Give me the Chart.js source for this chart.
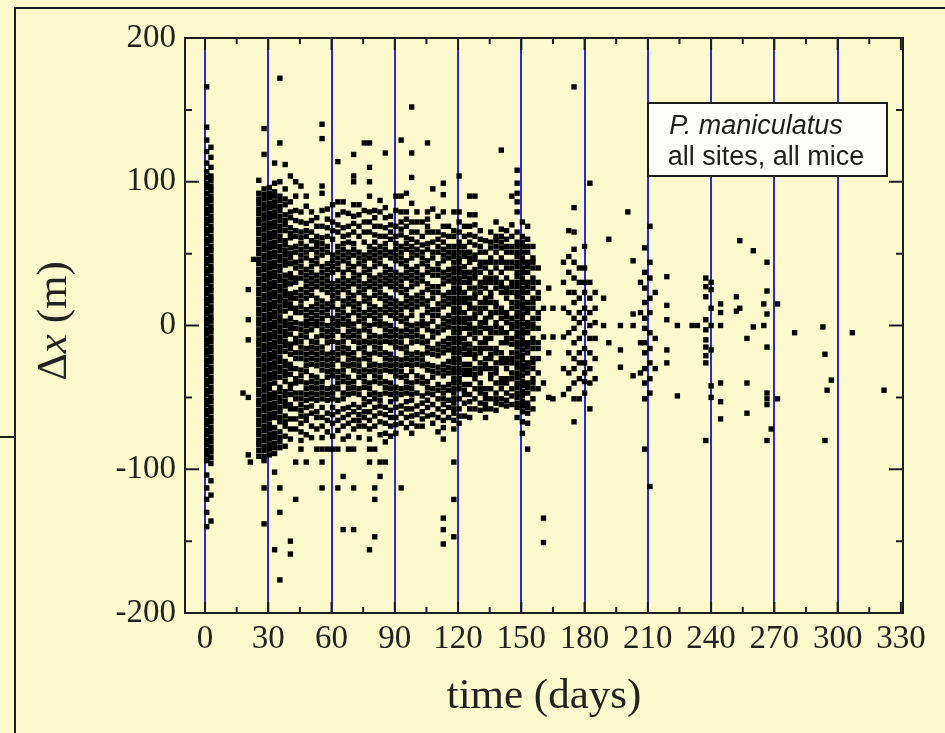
<!DOCTYPE html>
<html>
<head>
<meta charset="utf-8">
<title>P. maniculatus displacement</title>
<script src="https://cdn.jsdelivr.net/npm/chart.js@4.4.1/dist/chart.umd.min.js"></script>
<style>
  html, body { margin: 0; padding: 0; background: #fcfacd; }
  canvas { display: block; }
</style>
</head>
<body>
<canvas id="chart" width="945" height="733"></canvas>
<script>
// capture day (x) for each column of points, and the displacements seen in that column
const colDays = [
  0.8, 2.8, 18, 20.5, 21.5, 23,
  25.5, 28, 30.5, 33, 35.5, 38, 40.5, 43, 45.5,
  48, 50.5, 53, 55.5, 58, 60.5, 63, 65.5, 68, 70.5, 73, 75.5, 78, 80.5, 83, 85.5, 88, 90.5,
  93, 95.5, 98, 100.5, 103, 105.5, 108, 110.5, 113, 115.5, 118, 120.5, 123, 125.5, 128,
  130.5, 133, 135.5, 138, 140.5, 143, 145.5, 148, 150.5, 153, 155.5, 158, 160.5, 163, 165,
  170, 172.5, 175, 177.5, 180, 182.5, 185,
  189, 191.5, 197, 200.5, 203,
  206.5, 208.5, 211, 213.5,
  219, 224, 231, 233.5,
  237.5, 240, 244.5,
  252, 253.6, 257, 260, 265, 266.5, 268.5, 271.5,
  279.6, 293, 294, 295, 297, 307, 322
]

const colDeltas = [
  [166,138,129,121,113,107,103,99,96,92,88,85,81,78,74,71,67,64,60,57,53,50,46,43,39,36,32,29,25,22,18,15,11,8,4,1,-3,-6,-10,-13,-17,-20,-24,-27,-31,-34,-38,-41,-45,-48,-52,-55,-59,-62,-66,-69,-73,-76,-80,-83,-87,-90,-94,-104,-113,-121,-130,-140],
  [124,117,110,104,101,97,94,90,87,83,80,76,73,69,66,62,59,55,52,48,45,41,38,34,31,27,24,20,17,13,10,6,3,-1,-4,-8,-11,-15,-18,-22,-25,-29,-32,-36,-39,-43,-46,-50,-53,-57,-60,-64,-67,-71,-74,-78,-81,-85,-88,-92,-96,-108,-118,-136],
  [-47],
  [25,4,-10,-50,-90],
  [-95],
  [46],
  // 30 day cluster
  [101,92,88,85,81,78,74,71,67,64,60,57,53,50,46,43,39,36,32,29,25,22,18,15,11,8,4,1,-3,-6,-10,-13,-17,-20,-24,-27,-31,-34,-38,-41,-45,-48,-52,-55,-59,-62,-66,-69,-73,-76,-80,-83,-87,-91],
  [137,119,95,91,88,84,81,77,74,70,67,63,60,56,53,49,46,42,39,35,32,28,25,21,18,14,11,7,4,0,-3,-7,-10,-14,-17,-21,-24,-28,-31,-35,-38,-42,-45,-49,-52,-56,-59,-63,-66,-70,-73,-77,-80,-84,-87,-91,-94,-113,-138],
  [96,92,89,85,82,78,75,71,68,64,61,57,54,50,47,43,40,36,33,29,26,22,19,15,12,8,5,1,-2,-6,-9,-13,-16,-20,-23,-27,-30,-34,-37,-41,-44,-48,-51,-55,-58,-62,-65,-69,-72,-76,-79,-83,-86,-90],
  [113,99,93,90,86,83,79,76,72,69,65,62,58,55,51,48,44,41,37,34,30,27,23,20,16,13,9,6,2,-1,-5,-8,-12,-15,-19,-22,-26,-29,-33,-36,-40,-47,-50,-54,-57,-61,-64,-71,-75,-78,-82,-85,-89,-102,-156],
  [172,127,100,90,87,83,80,76,73,69,66,62,59,55,52,48,45,41,38,34,31,27,24,20,17,13,10,6,3,-1,-4,-8,-11,-15,-18,-22,-25,-29,-32,-36,-43,-46,-50,-53,-57,-60,-64,-67,-74,-78,-81,-85,-113,-130,-177],
  [112,95,88,84,77,73,70,66,59,56,52,49,45,42,35,31,28,24,21,17,14,10,3,0,-4,-7,-11,-14,-18,-25,-28,-32,-35,-39,-46,-49,-53,-56,-63,-67,-70,-77,-84],
  [104,86,79,75,68,64,61,54,50,47,43,36,33,29,22,19,15,12,5,1,-2,-6,-13,-16,-20,-27,-30,-34,-41,-44,-48,-55,-58,-65,-72,-79,-150,-159],
  [100,90,80,73,66,62,55,51,44,40,33,30,23,19,12,9,2,-2,-9,-12,-19,-23,-30,-37,-40,-47,-51,-58,-65,-72,-95,-121],
  [97,79,72,65,61,57,53,49,45,41,37,33,25,21,17,13,9,1,-3,-7,-11,-15,-19,-23,-31,-35,-39,-47,-51,-55,-59,-63,-68,-74,-80,-86],
  // 60 and 90 day clusters
  [90,83,71,66,62,55,51,47,39,35,31,27,23,19,11,7,3,0,-4,-8,-16,-20,-24,-28,-32,-40,-44,-48,-52,-57,-63,-66,-76,-95],
  [79,73,65,59,53,45,41,37,33,29,25,21,13,9,5,1,-3,-11,-15,-19,-23,-27,-35,-39,-43,-47,-51,-56,-61,-70,-78],
  [75,69,62,58,55,51,47,43,35,31,27,19,15,11,7,3,0,-8,-12,-16,-20,-24,-28,-36,-40,-44,-48,-52,-60,-64,-72,-86],
  [140,130,97,92,80,69,61,57,53,49,41,37,33,29,25,17,13,9,5,1,-3,-7,-15,-19,-23,-27,-31,-39,-43,-47,-51,-57,-64,-70,-78,-86,-95,-113],
  [81,74,68,62,55,51,43,39,35,31,27,23,15,11,7,0,-4,-8,-12,-20,-24,-28,-32,-36,-44,-48,-52,-61,-66,-74,-86],
  [84,72,66,60,49,45,41,37,29,25,21,17,13,5,1,-3,-7,-11,-19,-23,-27,-31,-35,-43,-47,-51,-57,-62,-68,-77,-86],
  [114,86,77,70,65,55,51,47,43,39,31,27,23,19,11,7,3,0,-4,-12,-16,-20,-24,-32,-36,-40,-44,-52,-60,-66,-73,-86,-113],
  [86,79,68,62,57,53,49,45,37,33,29,25,17,13,9,5,1,-7,-11,-15,-19,-27,-31,-35,-39,-47,-51,-58,-64,-70,-79,-105,-142],
  [78,69,63,58,51,47,43,39,31,27,23,19,15,7,3,0,-4,-8,-16,-20,-24,-28,-36,-40,-44,-48,-57,-62,-68,-77,-86],
  [119,104,100,84,76,71,65,57,53,49,41,37,33,29,21,17,13,9,1,-3,-7,-11,-19,-23,-27,-31,-39,-43,-47,-55,-60,-66,-72,-86,-113,-142],
  [84,77,69,62,51,47,43,35,31,27,23,15,11,7,3,-4,-8,-12,-16,-24,-28,-32,-36,-44,-48,-57,-62,-66,-70,-78],
  [127,80,72,65,58,49,45,41,37,29,25,21,17,9,5,1,-3,-11,-15,-19,-23,-31,-35,-39,-43,-51,-55,-60,-64,-70],
  [127,110,100,90,79,72,65,55,51,47,39,35,31,27,19,15,11,7,0,-4,-8,-12,-20,-24,-28,-32,-40,-44,-48,-53,-60,-66,-72,-79,-86,-95,-156],
  [80,75,69,63,58,53,49,45,41,33,29,25,21,13,9,5,1,-7,-11,-15,-19,-27,-31,-35,-39,-47,-51,-57,-63,-70,-86,-113,-121,-147],
  [87,79,69,62,55,51,47,43,35,31,27,23,19,11,7,3,0,-8,-12,-16,-20,-28,-32,-36,-40,-48,-52,-56,-61,-67,-76,-95,-105],
  [120,82,75,68,62,57,53,49,41,37,33,29,21,17,13,9,1,-3,-7,-11,-19,-23,-27,-31,-39,-43,-47,-57,-62,-68,-75,-81,-95],
  [76,70,65,60,51,47,39,35,31,27,19,15,11,7,0,-4,-8,-12,-20,-24,-28,-32,-40,-44,-48,-53,-59,-64,-70,-77],
  [90,80,69,62,57,53,49,45,37,33,29,25,17,13,9,5,-3,-7,-11,-15,-23,-27,-31,-35,-43,-47,-51,-57,-64,-69,-75],
  [129,90,79,72,67,63,55,51,47,43,35,31,27,23,15,11,7,3,-4,-8,-12,-16,-24,-28,-32,-36,-44,-48,-56,-61,-68,-113],
  [92,79,74,69,61,57,53,45,41,37,33,25,21,17,13,5,1,-3,-7,-15,-19,-23,-27,-35,-39,-43,-47,-53,-58,-64,-71],
  [152,120,103,85,72,65,60,55,51,47,39,35,31,27,19,15,11,7,0,-4,-8,-12,-20,-24,-28,-32,-40,-44,-48,-52,-58,-63,-68,-75],
  [79,72,65,58,53,49,41,37,33,29,21,17,13,1,-3,-7,-11,-19,-23,-27,-35,-39,-47,-56,-62,-70],
  [72,62,56,51,47,43,35,31,23,19,15,7,3,0,-8,-12,-20,-24,-28,-36,-40,-49,-54,-60,-65,-70],
  [127,79,74,69,65,57,53,45,41,37,29,25,17,13,9,1,-3,-11,-15,-19,-27,-31,-39,-43,-47,-52,-57,-63],
  [95,81,65,58,51,47,39,35,27,23,19,11,7,3,-4,-8,-16,-20,-28,-32,-36,-44,-48,-55,-62,-68],
  [76,65,60,55,51,43,39,35,27,23,15,11,7,-1,-5,-13,-17,-21,-29,-33,-41,-45,-51,-58,-64,-74],
  [99,91,79,69,63,58,53,49,45,37,33,29,21,17,13,5,1,-3,-11,-15,-19,-27,-31,-35,-43,-47,-51,-55,-60,-66,-71,-79,-134,-142,-152],
  [69,62,55,51,47,39,35,31,23,19,15,7,3,-1,-9,-13,-17,-25,-29,-33,-41,-45,-52,-57,-64],
  [79,66,62,55,51,48,44,40,37,33,30,26,23,19,16,12,9,5,2,-2,-5,-9,-12,-16,-19,-23,-26,-30,-33,-37,-40,-44,-47,-51,-54,-58,-61,-66,-72,-95,-121,-147],
  [104,79,72,65,58,55,51,47,44,40,37,33,30,26,23,19,16,12,9,5,2,-2,-5,-9,-12,-16,-19,-23,-26,-30,-33,-37,-40,-44,-51,-58,-63,-68],
  [69,62,55,51,48,41,37,34,30,23,19,16,9,5,2,-2,-9,-13,-16,-20,-27,-31,-34,-41,-45,-48,-54,-63],
  [90,77,69,63,58,51,47,44,37,33,30,26,19,15,12,5,1,-2,-6,-13,-17,-20,-27,-31,-34,-41,-48,-53,-58,-64],
  [90,77,70,62,56,49,46,39,36,33,26,22,19,12,8,5,-2,-5,-9,-16,-20,-23,-30,-34,-37,-44,-51,-58],
  // 150 day cluster
  [66,60,55,51,44,41,37,30,27,23,16,12,9,2,-1,-5,-12,-16,-19,-26,-30,-33,-40,-44,-47,-54,-59],
  [59,51,44,40,33,30,26,19,16,12,5,2,-2,-9,-12,-16,-23,-27,-30,-44,-48,-51,-55,-58,-64],
  [65,58,54,47,44,37,33,30,23,20,16,9,6,-2,-5,-9,-16,-20,-23,-30,-34,-37,-44,-51,-58],
  [72,62,59,55,51,44,40,33,30,26,16,13,9,2,-1,-5,-16,-19,-26,-30,-33,-40,-47,-51,-54,-59],
  [122,67,62,58,54,47,44,37,30,27,23,12,9,5,-2,-5,-12,-19,-23,-26,-37,-40,-44,-51,-55],
  [66,60,55,51,44,40,33,26,23,19,9,6,2,-5,-9,-12,-23,-26,-30,-37,-40,-47,-52,-56],
  [90,70,62,55,51,44,40,30,27,23,16,12,5,1,-2,-9,-13,-19,-23,-26,-33,-37,-44,-49,-55],
  [108,99,92,86,79,65,58,55,51,48,44,41,37,34,30,27,23,20,16,13,9,6,2,-1,-5,-8,-12,-15,-19,-22,-26,-29,-33,-36,-40,-43,-47,-50,-54,-57,-64],
  [72,62,58,55,51,47,44,40,37,33,30,26,23,19,15,12,8,5,1,-3,-6,-10,-13,-17,-21,-24,-28,-31,-35,-39,-42,-46,-49,-53,-56,-60,-67,-75],
  [69,60,55,51,44,41,37,30,27,23,16,12,9,2,-1,-5,-12,-15,-19,-26,-29,-33,-40,-43,-47,-54,-57,-61,-68,-86],
  [55,47,44,40,33,30,26,19,16,12,5,1,-2,-9,-12,-16,-23,-26,-30,-37,-40,-44,-51,-58],
  [40,30,23,19,9,5,-2,-12,-16,-23,-33,-44],
  [12,-8,-40,-134,-151],
  [26,-19,-50],
  [12,-8,-51],
  // 180 day cluster
  [44,30,12,-8,-30,-48],
  [66,48,37,23,9,-5,-19,-33,-44],
  [166,82,65,53,44,33,23,16,5,-2,-12,-23,-30,-40,-51,-67],
  [40,30,19,9,2,-9,-19,-26,-37,-51],
  [55,40,30,23,12,5,-5,-16,-26,-33,-39,-47],
  [99,30,19,9,0,-9,-19,-30,-40,-58],
  [23,12,2,-9,-23,-37],
  [0,19],
  [60,-12],
  [0,-17,-29],
  [79],
  [45,8,0,-35],
  // 210 day cluster
  [30,9,-12,-33],
  [54,37,26,16,5,-2,-12,-19,-30,-40,-51,-86],
  [69,44,33,19,9,-5,-16,-26,-37,-47,-112],
  [23,-9,-30],
  [34,14,4,-17,-26],
  [-49,0],
  [0],
  [0],
  // 240 day cluster
  [33,27,20,4,-3,-10,-15,-21,-26,-80],
  [30,25,12,0,-17,-42,-50],
  [15,9,0,-40,-53,-65],
  [20,10],
  [59,12],
  [-9,-40,-61],
  [52,-1],
  [0,15],
  [44,24,8,-15,-47,-51,-55,-80],
  [-72],
  [15,-51],
  // late captures
  [-5],
  [-1],
  [-20,-80],
  [-45],
  [-38],
  [-5],
  [-45]
]

const xTickValues = [0, 30, 60, 90, 120, 150, 180, 210, 240, 270, 300, 330]
const xMinorTicks = [15, 45, 75, 105, 135, 165, 195, 225, 255, 285, 315]
const yTickValues = [-200, -100, 0, 100, 200]
const yMinorTicks = [-150, -50, 50, 150]
const legendLines = ['P. maniculatus', 'all sites, all mice']

const points = []
colDays.forEach((d, i) => {
  colDeltas[i].forEach((v) => points.push({ x: d, y: v }))
})

const BG = '#fcfacd'
const INK = '#1c1c1c'

// frame, inner ticks, legend box and y title
const decorations = {
  id: 'decorations',
  beforeDraw(chart) {
    const c = chart.ctx
    c.save()
    c.fillStyle = BG
    c.fillRect(0, 0, chart.width, chart.height)
    c.strokeStyle = INK
    c.lineWidth = 2
    c.beginPath()
    c.moveTo(15, 733)
    c.lineTo(15, 8)
    c.lineTo(945, 8)
    c.moveTo(0, 437)
    c.lineTo(15, 437)
    c.stroke()
    c.restore()
  },
  afterDatasetsDraw(chart) {
    const c = chart.ctx
    const a = chart.chartArea
    const x = chart.scales.x
    const y = chart.scales.y
    c.save()
    c.strokeStyle = INK
    c.lineWidth = 2
    c.beginPath()
    xTickValues.forEach((v) => {
      const px = x.getPixelForValue(v)
      c.moveTo(px, a.bottom); c.lineTo(px, a.bottom - 11)
      c.moveTo(px, a.top); c.lineTo(px, a.top + 12)
    })
    xMinorTicks.forEach((v) => {
      const px = x.getPixelForValue(v)
      c.moveTo(px, a.bottom); c.lineTo(px, a.bottom - 6)
      c.moveTo(px, a.top); c.lineTo(px, a.top + 6)
    })
    yTickValues.forEach((v) => {
      const py = y.getPixelForValue(v)
      c.moveTo(a.left, py); c.lineTo(a.left + 14, py)
      c.moveTo(a.right, py); c.lineTo(a.right - 14, py)
    })
    yMinorTicks.forEach((v) => {
      const py = y.getPixelForValue(v)
      c.moveTo(a.left, py); c.lineTo(a.left + 7, py)
      c.moveTo(a.right, py); c.lineTo(a.right - 7, py)
    })
    c.stroke()
    c.strokeRect(a.left, a.top, a.right - a.left, a.bottom - a.top)

    // legend box
    c.fillStyle = '#fdfdfb'
    c.fillRect(648, 103, 239, 73)
    c.strokeRect(648, 103, 239, 73)
    c.fillStyle = '#1e1e1e'
    c.textAlign = 'center'
    c.textBaseline = 'alphabetic'
    c.font = 'italic 27px "Liberation Sans", Arial, sans-serif'
    c.fillText(legendLines[0], 756, 134)
    c.font = '27px "Liberation Sans", Arial, sans-serif'
    c.fillText(legendLines[1], 766, 165)

    // y axis title with italic x
    const parts = [['Δ', ''], ['x', 'italic '], [' (m)', '']]
    const font = (s) => s + '43px "Liberation Serif", "Times New Roman", serif'
    let total = 0
    parts.forEach((p) => { c.font = font(p[1]); total += c.measureText(p[0]).width })
    c.translate(66, 321)
    c.rotate(-Math.PI / 2)
    c.textAlign = 'left'
    c.fillStyle = '#222'
    let pos = -total / 2
    parts.forEach((p) => {
      c.font = font(p[1])
      c.fillText(p[0], pos, 0)
      pos += c.measureText(p[0]).width
    })
    c.restore()
  }
}

new Chart(document.getElementById('chart').getContext('2d'), {
  type: 'scatter',
  data: {
    datasets: [{
      data: points,
      pointStyle: 'rect',
      pointRadius: 3.8,
      pointBackgroundColor: '#000',
      pointBorderWidth: 0,
      showLine: false
    }]
  },
  options: {
    responsive: false,
    animation: false,
    devicePixelRatio: 1,
    layout: { padding: { left: 0, right: 42, top: 38, bottom: 0 } },
    plugins: { legend: { display: false }, tooltip: { enabled: false } },
    scales: {
      x: {
        type: 'linear',
        min: -9.5,
        max: 331,
        afterFit: (s) => { s.height = 120 },
        afterBuildTicks: (s) => { s.ticks = xTickValues.map((v) => ({ value: v })) },
        grid: {
          drawTicks: false,
          lineWidth: 2,
          color: (ctx) => (ctx.tick && ctx.tick.value <= 300 ? '#2a2ad8' : 'rgba(0,0,0,0)')
        },
        border: { display: false },
        ticks: {
          padding: 7,
          color: '#222',
          font: { family: 'Liberation Serif', size: 33 }
        },
        title: {
          display: true,
          text: 'time (days)',
          color: '#222',
          font: { family: 'Liberation Serif', size: 43 },
          padding: { top: 0, bottom: 10 }
        }
      },
      y: {
        type: 'linear',
        min: -200,
        max: 200,
        afterFit: (s) => { s.width = 185 },
        afterBuildTicks: (s) => { s.ticks = yTickValues.map((v) => ({ value: v })) },
        grid: { display: false, drawTicks: false },
        border: { display: false },
        ticks: {
          padding: 9,
          color: '#222',
          font: { family: 'Liberation Serif', size: 33 }
        }
      }
    }
  },
  plugins: [decorations]
})
</script>
</body>
</html>
